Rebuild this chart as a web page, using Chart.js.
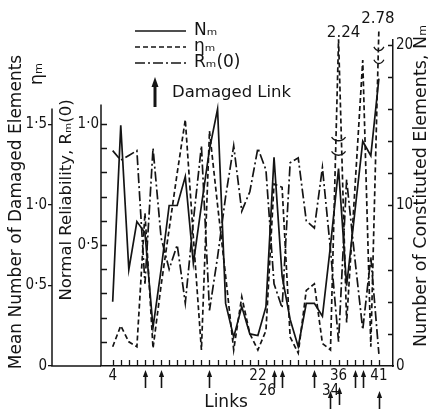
<!DOCTYPE html>
<html><head><meta charset="utf-8">
<script src="https://cdn.jsdelivr.net/npm/chart.js@4.4.0/dist/chart.umd.min.js"></script>
<style>html,body{margin:0;padding:0;background:#fff;}</style>
</head><body>
<canvas id="c" width="435" height="413"></canvas>
<script>
// ---- data ----
const links = [4,5,6,7,8,9,10,11,12,13,14,15,16,17,18,19,20,21,22,23,26,27,28,29,31,32,33,34,36,37,38,39,40,41];
const shownLinks = [4,22,26,34,36,41];
const damagedLinks = [8,10,16,26,27,32,34,36,38,39,41];
const Nm   = [4.0,15.0,6.0,9.0,8.3,2.4,6.0,10.0,10.0,11.8,6.4,10.0,13.5,16.0,3.9,1.8,3.7,2.0,1.9,3.7,13.0,5.6,2.9,1.2,3.9,3.9,3.1,7.5,12.3,5.0,9.5,14.0,13.1,17.9];
const etaM = [0.12,0.25,0.15,0.12,0.95,0.11,0.5,0.85,1.2,1.53,0.8,0.1,1.46,1.0,0.56,0.1,0.43,0.2,0.1,0.22,1.13,1.11,0.18,0.08,0.47,0.51,0.14,0.1,2.24,0.27,1.08,1.9,0.12,2.78];
const Rm0  = [0.89,0.85,0.87,0.89,0.34,0.90,0.53,0.40,0.50,0.26,0.60,0.91,0.23,0.45,0.70,0.91,0.64,0.72,0.90,0.81,0.34,0.24,0.84,0.86,0.60,0.57,0.82,0.48,0.10,0.77,0.45,0.15,0.45,0.05];
const NmTicks = [0,1,2,3,4,5,6,7,8,9,10,11,12,13,14,15,16,17,18,19,20];
const RTicks = [0,0.1,0.2,0.3,0.4,0.5,0.6,0.7,0.8,0.9,1.0];
const etaTicks = [0,0.5,1.0,1.5];

// ---- style ----
const INK = '#141414';
const LW = 1.7;
const NARROW = "'DejaVu Sans Condensed','Liberation Sans Narrow','DejaVu Sans',sans-serif";
const SANS = "'DejaVu Sans',sans-serif";
const tickFont = {family: NARROW, size: 15, weight: 'condensed'};
const fmt = v => v === 0 ? '0' : v.toFixed(1).replace('.', '\u00B7');
// broken eta axis: values above 2 are compressed (as in the figure)
const brokenEta = v => v > 2 ? 2 + (v - 2) * 0.12 : v;

const pts = arr => arr.map((v, i) => ({x: i, y: v}));

const decor = {
  id: 'decor',
  afterDraw(chart) {
    const ctx = chart.ctx;
    const {x, yN, yR, yE} = chart.scales;
    const y0 = yN.getPixelForValue(0);
    ctx.save();
    ctx.strokeStyle = INK; ctx.fillStyle = INK; ctx.lineWidth = 1.3;
    // inward tick marks
    ctx.beginPath();
    x.ticks.forEach(t => { const px = Math.round(x.getPixelForValue(t.value)) + 0.5; ctx.moveTo(px, y0); ctx.lineTo(px, y0 - 6); });
    yR.ticks.forEach(t => { if (t.value === 0) return; const py = Math.round(yR.getPixelForValue(t.value)) + 0.5; ctx.moveTo(yR.right, py); ctx.lineTo(yR.right + 6, py); });
    yN.ticks.forEach(t => { if (t.value === 0) return; const py = Math.round(yN.getPixelForValue(t.value)) + 0.5; ctx.moveTo(yN.left, py); ctx.lineTo(yN.left - 5, py); });
    ctx.stroke();
    // partial left axis lines + base line
    ctx.lineWidth = 1.5;
    ctx.beginPath();
    ctx.moveTo(yE.right, yE.getPixelForValue(1.6)); ctx.lineTo(yE.right, y0);
    ctx.lineTo(yR.right, y0);
    ctx.moveTo(yR.right, yR.getPixelForValue(1.08)); ctx.lineTo(yR.right, y0);
    ctx.stroke();

    // axis titles
    const vtext = (str, px, py, font) => {
      ctx.save(); ctx.translate(px, py); ctx.rotate(-Math.PI / 2);
      ctx.font = font; ctx.textAlign = 'center'; ctx.textBaseline = 'middle';
      ctx.fillText(str, 0, 0); ctx.restore();
    };
    vtext('Mean Number of Damaged Elements', 17, 212, '17px ' + SANS);
    vtext('\u03B7\u2098', 37, 74, '18px ' + SANS);
    vtext('Normal Reliability, R\u2098(0)', 67, 200, '16.5px ' + SANS);
    vtext('Number of Constituted Elements, N\u2098', 421, 186, '17.5px ' + SANS);
    ctx.font = '17px ' + SANS; ctx.textAlign = 'center'; ctx.textBaseline = 'middle';
    ctx.fillText('Links', 226, 403);

    // legend
    const ds = chart.data.datasets;
    const legY = [31, 47, 63];
    ds.forEach((d, i) => {
      ctx.save();
      ctx.lineWidth = LW; ctx.setLineDash(d.borderDash || []);
      ctx.beginPath(); ctx.moveTo(135, legY[i]); ctx.lineTo(186, legY[i]); ctx.stroke();
      ctx.restore();
      ctx.font = '17px ' + SANS; ctx.textAlign = 'left'; ctx.textBaseline = 'middle';
      ctx.fillText(d.label, 194, legY[i]);
    });
    // legend arrow
    const arrow = (px, top, len, hw, hh, lw) => {
      ctx.save(); ctx.lineWidth = lw; ctx.setLineDash([]);
      ctx.beginPath(); ctx.moveTo(px, top + hh - 1); ctx.lineTo(px, top + len); ctx.stroke();
      ctx.beginPath(); ctx.moveTo(px, top); ctx.lineTo(px - hw, top + hh); ctx.lineTo(px + hw, top + hh); ctx.closePath(); ctx.fill();
      ctx.restore();
    };
    arrow(155, 77, 30, 3.5, 10, 3);
    ctx.font = '16.5px ' + SANS; ctx.textAlign = 'left'; ctx.textBaseline = 'middle';
    ctx.fillText('Damaged Link', 172, 93);

    // damaged-link arrows under the axis
    const drop = {34: 21, 36: 17, 41: 21};
    damagedLinks.forEach(l => {
      const i = links.indexOf(l);
      const px = Math.round(x.getPixelForValue(i)) + 0.5;
      const top = y0 + 4 + (drop[l] || 0);
      arrow(px, top, 18, 2.6, 7, 1.6);
    });

    // breaks and values of the off-scale points
    const brk = (px, py, w) => {
      ctx.save(); ctx.lineWidth = 1.3; ctx.setLineDash([]);
      ctx.beginPath(); ctx.moveTo(px - w, py - 2);
      ctx.bezierCurveTo(px - w / 2, py + 3, px + w / 2, py + 3, px + w, py - 2);
      ctx.stroke(); ctx.restore();
    };
    etaM.forEach((v, i) => {
      if (v <= 2) return;
      const px = x.getPixelForValue(i);
      const hi = v > 2.5;
      const b1 = yE.getPixelForValue(hi ? 1.97 : 1.41), b2 = yE.getPixelForValue(hi ? 1.89 : 1.32);
      brk(px, b1, hi ? 5 : 7); brk(px, b2, hi ? 5 : 7);
      ctx.font = '15px ' + SANS; ctx.textAlign = 'center'; ctx.textBaseline = 'middle';
      ctx.fillText(v.toFixed(2), px + (hi ? -1 : 5), hi ? 19 : 33);
    });
    ctx.restore();
  }
};

new Chart(document.getElementById('c'), {
  type: 'line',
  data: {
    datasets: [
      {label: 'N\u2098', data: pts(Nm), yAxisID: 'yN', borderColor: INK, borderWidth: LW, pointRadius: 0, tension: 0},
      {label: '\u03B7\u2098', data: pts(etaM.map(brokenEta)), yAxisID: 'yE', borderColor: INK, borderWidth: LW, borderDash: [5, 3], pointRadius: 0, tension: 0, clip: {left: 2, right: 2, top: 16, bottom: 2}},
      {label: 'R\u2098(0)', data: pts(Rm0), yAxisID: 'yR', borderColor: INK, borderWidth: LW, borderDash: [10, 3, 2, 3], pointRadius: 0, tension: 0}
    ]
  },
  options: {
    responsive: false, animation: false, devicePixelRatio: 1,
    layout: {padding: {top: 40, left: 0, right: 0, bottom: 0}},
    plugins: {legend: {display: false}, tooltip: {enabled: false}},
    scales: {
      x: {
        type: 'linear', min: -1.45, max: 34.75,
        afterBuildTicks: s => { s.ticks = links.map((l, i) => ({value: i})); },
        afterFit: s => { s.height = 47; },
        grid: {display: false, drawTicks: false},
        border: {display: true, color: INK, width: 1.5},
        ticks: {
          autoSkip: false, maxRotation: 0, minRotation: 0, padding: 3, color: INK,
          font: Object.assign({lineHeight: 1.0}, tickFont),
          callback: v => {
            const l = links[v];
            if (!shownLinks.includes(l)) return '';
            if (l === 26) return ['', '26\u2002\u2002'];
            if (l === 34) return ['', '34'];
            return String(l);
          }
        }
      },
      yN: {
        position: 'right', min: 0, max: 20.31,
        afterBuildTicks: s => { s.ticks = NmTicks.map(v => ({value: v})); },
        afterFit: s => { s.width = 42; },
        grid: {display: false, drawTicks: false},
        border: {display: true, color: INK, width: 1.5},
        ticks: {padding: 3, color: INK, font: tickFont, callback: v => v % 5 === 0 ? String(v) : ''}
      },
      yR: {
        position: 'left', weight: 0, min: 0, max: 1.347,
        afterBuildTicks: s => { s.ticks = RTicks.map(v => ({value: v})); },
        afterFit: s => { s.width = 49; },
        grid: {display: false, drawTicks: false},
        border: {display: false},
        ticks: {padding: 2, color: INK, font: tickFont, callback: v => (Math.abs(v - 0.5) < 1e-6 || Math.abs(v - 1) < 1e-6) ? fmt(v) : ''}
      },
      yE: {
        position: 'left', weight: 1, min: 0, max: 2.025,
        afterBuildTicks: s => { s.ticks = etaTicks.map(v => ({value: v})); },
        afterFit: s => { s.width = 52; },
        grid: {display: true, drawOnChartArea: false, drawTicks: true, tickLength: 4, color: INK, lineWidth: 1.3},
        border: {display: false},
        ticks: {padding: 1, color: INK, font: tickFont, callback: v => fmt(v)}
      }
    }
  },
  plugins: [decor]
});
</script>
</body></html>
